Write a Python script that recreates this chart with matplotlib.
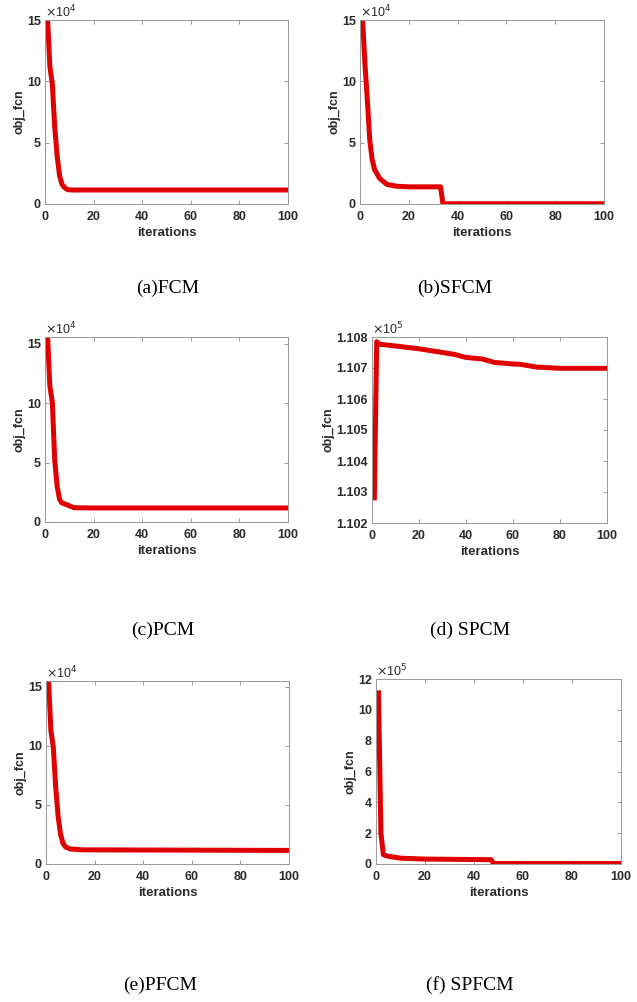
import matplotlib
matplotlib.use("Agg")
import matplotlib.pyplot as plt

# iterations / objective values (values in units of 10^exp)
fcm_x = [1, 2, 3, 4, 5, 6, 7, 8, 9, 10, 12, 20, 100]
fcm_y = [15.3, 11.2, 9.8, 6.3, 3.9, 2.3, 1.6, 1.35, 1.2, 1.15, 1.14, 1.14, 1.14]

sfcm_x = [1, 2, 3, 4, 5, 6, 8, 11, 15, 20, 33, 34, 100]
sfcm_y = [15.3, 11.5, 8.5, 5.2, 3.6, 2.8, 2.1, 1.6, 1.45, 1.4, 1.4, 0.02, 0.02]

pcm_x = [1, 2, 3, 4, 5, 6, 7, 9, 12, 20, 100]
pcm_y = [15.8, 11.4, 10.1, 5.2, 3.0, 1.9, 1.6, 1.45, 1.2, 1.18, 1.18]

spcm_x = [1, 2, 3, 10, 20, 30, 35, 40, 47, 52, 60, 63, 70, 80, 100]
spcm_y = [1.10281, 1.10785, 1.10777, 1.10771, 1.10762, 1.10750, 1.10744, 1.10734,
          1.10729, 1.10718, 1.10713, 1.10712, 1.10703, 1.10699, 1.10699]

pfcm_x = [1, 2, 3, 4, 5, 6, 7, 8, 10, 15, 100]
pfcm_y = [15.8, 11.3, 9.9, 6.5, 4.0, 2.5, 1.75, 1.45, 1.27, 1.2, 1.15]

spfcm_x = [1, 2, 3, 5, 10, 20, 47, 48, 100]
spfcm_y = [11.1, 2.0, 0.6, 0.5, 0.38, 0.32, 0.28, 0.03, 0.03]

captions = ["(a)FCM", "(b)SFCM", "(c)PCM", "(d) SPCM", "(e)PFCM", "(f) SPFCM"]
exponents = [4, 4, 4, 5, 4, 5]

W, H = 637, 1002
fig = plt.figure(figsize=(W / 100, H / 100), dpi=100)
fig.patch.set_facecolor("white")

# axes boxes in pixels: left, top, right, bottom
boxes = [(45, 20, 288, 204), (360, 20, 604, 204),
         (45, 337, 288, 522), (372, 337, 607, 523),
         (46, 681, 289, 864), (376, 679, 621, 864)]
cap_pos = [(168, 288), (455, 288), (163, 630), (470, 630), (160, 985), (470, 985)]

series = [(fcm_x, fcm_y), (sfcm_x, sfcm_y), (pcm_x, pcm_y),
          (spcm_x, spcm_y), (pfcm_x, pfcm_y), (spfcm_x, spfcm_y)]
ylims = [(0, 15), (0, 15), (0, 15.55), (1.102, 1.108), (0, 15.5), (0, 12)]
yticks = [[0, 5, 10, 15], [0, 5, 10, 15], [0, 5, 10, 15],
          [1.102, 1.103, 1.104, 1.105, 1.106, 1.107, 1.108],
          [0, 5, 10, 15], [0, 2, 4, 6, 8, 10, 12]]

txt = "#2a2a2a"
font = "Liberation Sans"

for i in range(6):
    l, t, r, b = boxes[i]
    ax = fig.add_axes([l / W, 1 - b / H, (r - l) / W, (b - t) / H])
    x, y = series[i]
    ax.plot(x, y, color="#e00000", lw=3.6, solid_joinstyle="round")
    ax.set_xlim(0, 100)
    ax.set_ylim(*ylims[i])
    ax.set_xticks([0, 20, 40, 60, 80, 100])
    ax.set_yticks(yticks[i])
    if i == 3:
        ax.set_yticklabels(["%.3f" % v for v in yticks[i]])
    ax.tick_params(direction="in", top=True, right=True, length=3, width=0.6,
                   color="#888888", labelcolor=txt, labelsize=9, pad=3)
    ax.tick_params(axis="x", pad=5)
    for lab in ax.get_xticklabels() + ax.get_yticklabels():
        lab.set_fontweight("bold")
        lab.set_fontfamily(font)
    for sp in ax.spines.values():
        sp.set_color("#999999")
        sp.set_linewidth(0.7)
    ax.set_xlabel("iterations", fontsize=9.5, fontweight="bold", family=font,
                  color=txt, labelpad=3)
    ax.set_ylabel("obj_fcn", fontsize=9, fontweight="bold", family=font,
                  color=txt, labelpad=1)
    ax.text(0.0, 1.0, r"$\times$10$^{%d}$" % exponents[i], transform=ax.transAxes,
            ha="left", va="bottom", fontsize=9, color=txt, family=font)
    cx, cy = cap_pos[i]
    fig.text(cx / W, 1 - cy / H, captions[i], ha="center", va="center",
             fontsize=14, family="Liberation Serif", color="black")

fig.savefig("out.png", dpi=100)
